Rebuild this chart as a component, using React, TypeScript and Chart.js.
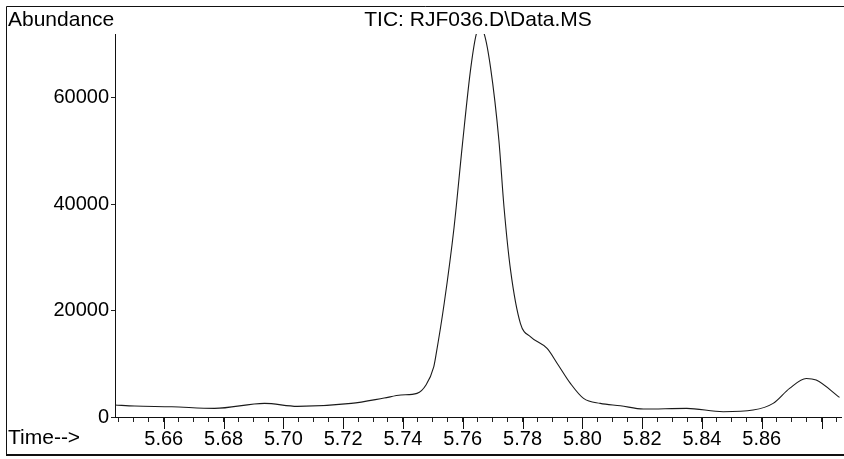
import React, { useEffect, useRef } from "react";
import { Chart, registerables } from "chart.js";

Chart.register(...registerables);

const times = [
  5.6437, 5.6503, 5.6627, 5.677, 5.6937, 5.7047, 5.7227, 5.7337, 5.7393, 5.7447,
  5.7477, 5.7503, 5.751, 5.7538, 5.7571, 5.7599, 5.7627, 5.7647, 5.7658, 5.767,
  5.7693, 5.7721, 5.7738, 5.776, 5.7793, 5.7827, 5.7882, 5.7916, 5.796, 5.8004,
  5.806, 5.8127, 5.8204, 5.8349, 5.8471, 5.8571, 5.8638, 5.8693, 5.8749, 5.8782,
  5.886,
];
const abundance = [
  2250, 2060, 1930, 1620, 2560, 2000, 2560, 3560, 4125, 4440,
  6000, 9440, 11500, 21375, 35680, 51300, 65680, 72300, 72900, 72300,
  65680, 51940, 39440, 27560, 17570, 15060, 12880, 10070, 6320, 3500,
  2560, 2120, 1500, 1630, 1000, 1310, 2560, 5380, 7250, 6940,
  3690,
];
const yTickValues = [0, 20000, 40000, 60000];
const xLabelValues = ["5.66", "5.68", "5.70", "5.72", "5.74", "5.76", "5.78", "5.80", "5.82", "5.84", "5.86"];
const xMajorValues = [5.66, 5.68, 5.70, 5.72, 5.74, 5.76, 5.78, 5.80, 5.82, 5.84, 5.86, 5.88];
const xMin = 5.6437;
const xMax = 5.8865;
const yMax = 72000;
const titleText = "TIC: RJF036.D\\Data.MS";
const yLabel = "Abundance";
const xLabel = "Time-->";

const FONT = '"Liberation Sans", Arial, sans-serif';

export default function App() {
  const ref = useRef<HTMLCanvasElement | null>(null);

  useEffect(() => {
    document.body.style.margin = "0";
    const canvas = ref.current;
    if (!canvas) return;

    const decor = {
      id: "decor",
      afterDraw(chart: any) {
        const ctx = chart.ctx;
        const area = chart.chartArea;
        const xs = chart.scales.x;
        ctx.save();
        // frame
        ctx.strokeStyle = "#111";
        ctx.lineWidth = 1;
        ctx.beginPath();
        ctx.moveTo(6.5, 6.5);
        ctx.lineTo(844, 6.5);
        ctx.moveTo(6.5, 6.5);
        ctx.lineTo(6.5, 455);
        ctx.stroke();
        ctx.lineWidth = 2;
        ctx.beginPath();
        ctx.moveTo(6, 455);
        ctx.lineTo(844, 455);
        ctx.stroke();
        // major ticks
        ctx.lineWidth = 1;
        ctx.beginPath();
        xMajorValues.forEach((v) => {
          const px = Math.round(xs.getPixelForValue(v)) + 0.5;
          ctx.moveTo(px, area.bottom);
          ctx.lineTo(px, area.bottom + 12);
        });
        ctx.stroke();
        // texts
        ctx.fillStyle = "#000";
        ctx.font = `21px ${FONT}`;
        ctx.textBaseline = "middle";
        ctx.textAlign = "left";
        ctx.fillText(yLabel, 8, 20);
        ctx.fillText(xLabel, 8, 438);
        ctx.textAlign = "center";
        ctx.fillText(titleText, (area.left + area.right) / 2, 20);
        ctx.restore();
      },
    };

    const chart = new Chart(canvas, {
      type: "line",
      data: {
        datasets: [
          {
            data: times.map((t, i) => ({ x: t, y: abundance[i] })),
            borderColor: "#1a1a1a",
            borderWidth: 1.1,
            pointRadius: 0,
            cubicInterpolationMode: "monotone",
            fill: false,
          },
        ],
      },
      options: {
        animation: false,
        responsive: false,
        events: [],
        layout: { padding: { left: 0, right: 3, top: 34, bottom: 0 } },
        plugins: { legend: { display: false }, tooltip: { enabled: false }, title: { display: false } },
        scales: {
          x: {
            type: "linear",
            min: xMin,
            max: xMax,
            afterBuildTicks(scale: any) {
              const ticks = [];
              for (let k = 0; k <= 48; k++) {
                const v = 5.645 + 0.005 * k;
                if (v <= xMax) ticks.push({ value: v });
              }
              scale.ticks = ticks;
            },
            afterFit(scale: any) {
              scale.height = 42;
            },
            ticks: {
              autoSkip: false,
              maxRotation: 0,
              padding: 5,
              color: "#000",
              font: { family: FONT, size: 20 },
              callback: (_v: any, i: number) => {
                const s = (5.645 + 0.005 * i).toFixed(2);
                return (i - 3) % 4 === 0 && xLabelValues.includes(s) ? s : "";
              },
            },
            grid: { display: true, drawOnChartArea: false, drawTicks: true, tickLength: 5, tickColor: "#222", lineWidth: 1 },
            border: { display: true, color: "#111", width: 1 },
          },
          y: {
            type: "linear",
            min: 0,
            max: yMax,
            afterBuildTicks(scale: any) {
              scale.ticks = yTickValues.map((v) => ({ value: v }));
            },
            afterFit(scale: any) {
              scale.width = 115;
            },
            ticks: {
              padding: 2,
              color: "#000",
              font: { family: FONT, size: 20 },
              callback: (v: any) => String(v),
            },
            grid: { display: true, drawOnChartArea: false, drawTicks: true, tickLength: 4, tickColor: "#222" },
            border: { display: true, color: "#111", width: 1 },
          },
        },
      },
      plugins: [decor],
    } as any);

    return () => chart.destroy();
  }, []);

  return (
    <div style={{ width: 844, height: 459, position: "relative", background: "#fff" }}>
      <canvas ref={ref} width={844} height={459} style={{ display: "block" }} />
    </div>
  );
}
